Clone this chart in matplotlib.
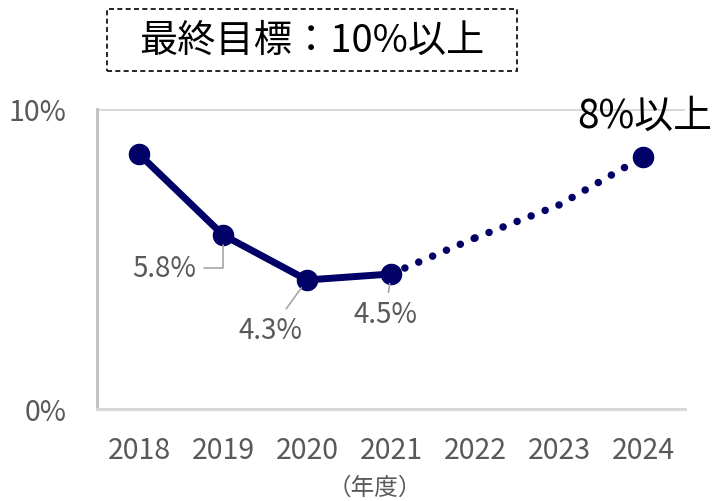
import matplotlib
matplotlib.use('Agg')
import matplotlib.pyplot as plt
from matplotlib.patches import Rectangle

plt.rcParams['font.family'] = ['Noto Sans CJK JP', 'DejaVu Sans']

years = ['2018', '2019', '2020', '2021', '2022', '2023', '2024']
actual = [8.5, 5.8, 4.3, 4.5]
plan = [4.5, 5.7, 6.8, 8.4]
labels = ['', '5.8%', '4.3%', '4.5%']
label_offsets = [None, (-42, -24), (-26, -36), (-4, -29)]
target_text = '最終目標：10%以上'
goal_text = '8%以上'
xlabel = '（年度）'

navy = '#000066'
gray = '#595959'

fig = plt.figure(figsize=(7.15, 5.02), dpi=100)
ax = fig.add_axes([0.1357, 0.1833, 0.8223, 0.5976])

x_act = list(range(len(actual)))
x_plan = list(range(len(actual) - 1, len(actual) - 1 + len(plan)))

# plan part: dotted, each segment drawn separately
for i in range(len(plan) - 1):
    ax.plot(x_plan[i:i + 2], plan[i:i + 2], color=navy, lw=5.4,
            linestyle=(0, (0.01, 2.0)), dash_capstyle='round', zorder=2)
ax.plot(x_plan[-1], plan[-1], 'o', color=navy, ms=14.5, zorder=3)

ax.plot(x_act, actual, color=navy, lw=5, marker='o', ms=14.5,
        solid_joinstyle='round', zorder=3)

for i, (v, lab) in enumerate(zip(actual, labels)):
    if not lab:
        continue
    dx, dy = label_offsets[i]
    cs = 'angle,angleA=0,angleB=90,rad=0' if i == 1 else 'arc3'
    ax.annotate(lab, xy=(i, v), xytext=(dx, dy), textcoords='offset points',
                ha='center', va='center', fontsize=20, color=gray,
                arrowprops=dict(arrowstyle='-', color='#a6a6a6', lw=1.2,
                                connectionstyle=cs, shrinkA=3, shrinkB=7))

ax.annotate(goal_text, xy=(x_plan[-1], plan[-1]), xytext=(1, 30),
            textcoords='offset points', ha='center', va='center',
            fontsize=28, color='black')

ax.set_xlim(-0.5, 6.5)
ax.set_ylim(0, 10)
ax.set_xticks(range(len(years)))
ax.set_xticklabels(years)
ax.set_yticks([0, 10])
ax.set_yticklabels(['0%', '10%'])
ax.tick_params(length=0, labelsize=20.5, labelcolor=gray)
ax.tick_params(axis='y', pad=22)
ax.tick_params(axis='x', pad=19)
ax.axhline(10, color='#d9d9d9', lw=2.2, zorder=1)
for s in ['top', 'right']:
    ax.spines[s].set_visible(False)
ax.spines['left'].set_color('#bfbfbf')
ax.spines['left'].set_linewidth(2)
ax.spines['bottom'].set_color('#d9d9d9')
ax.spines['bottom'].set_linewidth(2.2)

ax.set_xlabel(xlabel, fontsize=17, color=gray, va='center')
ax.xaxis.set_label_coords(0.473, -0.262)

# title box
fig.patches.append(Rectangle((107 / 715, 1 - 72 / 502), 410 / 715, 62 / 502,
                             transform=fig.transFigure, fill=False,
                             ec='black', lw=1.2, ls=(0, (3, 2))))
fig.text(312 / 715, 1 - 41 / 502, target_text, ha='center', va='center',
         fontsize=27.5, color='black')

fig.savefig('out.png', dpi=100)
